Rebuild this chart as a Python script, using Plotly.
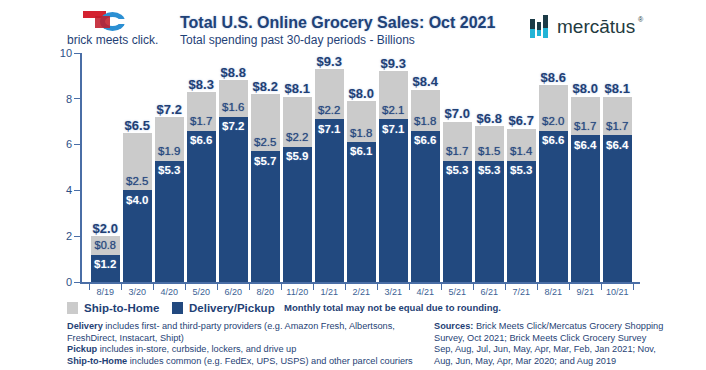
import plotly.graph_objects as go

# ---------------- data ----------------
categories = ["8/19", "3/20", "4/20", "5/20", "6/20", "8/20", "11/20", "1/21", "2/21",
              "3/21", "4/21", "5/21", "6/21", "7/21", "8/21", "9/21", "10/21"]
delivery_pickup = [1.2, 4.0, 5.3, 6.6, 7.2, 5.7, 5.9, 7.1, 6.1, 7.1, 6.6, 5.3, 5.3, 5.3, 6.6, 6.4, 6.4]
ship_to_home = [0.8, 2.5, 1.9, 1.7, 1.6, 2.5, 2.2, 2.2, 1.8, 2.1, 1.8, 1.7, 1.5, 1.4, 2.0, 1.7, 1.7]
monthly_total = [2.0, 6.5, 7.2, 8.3, 8.8, 8.2, 8.1, 9.3, 8.0, 9.3, 8.4, 7.0, 6.8, 6.7, 8.6, 8.0, 8.1]
y_ticks = [0, 2, 4, 6, 8, 10]

# ---------------- style ----------------
W, H = 706, 370
ML, MR, MT, MB = 82, 66, 53, 88
PW, PH = W - ML - MR, H - MT - MB
FONT = "Arial, Liberation Sans, Helvetica, sans-serif"
NAVY = "#22497f"
GREY = "#cbcbcb"
TXT = "#1f3f75"
GLOW = "0px 0px 2px rgba(110,150,210,0.55)"


def px(x):
    return (x - ML) / PW


def py(y):
    return (H - MB - y) / PH


stack_top = [d + s for d, s in zip(delivery_pickup, ship_to_home)]

fig = go.Figure()
fig.add_trace(go.Bar(
    x=categories, y=delivery_pickup, name="Delivery/Pickup",
    marker=dict(color=NAVY, line=dict(width=0)),
    text=[f"${v:.1f}" for v in delivery_pickup],
    textposition="inside", insidetextanchor="end", textangle=0,
    insidetextfont=dict(family=FONT, size=12.5, color="white", weight="bold", shadow=GLOW),
    hoverinfo="skip",
))
fig.add_trace(go.Bar(
    x=categories, y=ship_to_home, name="Ship-to-Home",
    marker=dict(color=GREY, line=dict(width=0)),
    text=[f"${v:.1f}" for v in ship_to_home],
    textposition="inside", insidetextanchor="start", textangle=0,
    insidetextfont=dict(family=FONT, size=12.5, color="#27487f",
                        shadow="0px 0px 1px rgba(39,72,127,0.7)"),
    hoverinfo="skip",
))
fig.add_trace(go.Scatter(
    x=categories, y=stack_top, mode="text",
    text=[f"${v:.1f}" for v in monthly_total], textposition="top center",
    textfont=dict(family=FONT, size=13, color=TXT, weight="bold", shadow=GLOW),
    hoverinfo="skip", showlegend=False, cliponaxis=False,
))

fig.update_layout(
    width=W, height=H, margin=dict(l=ML, r=MR, t=MT, b=MB),
    paper_bgcolor="white", plot_bgcolor="white",
    barmode="stack", bargap=0.11, showlegend=False,
    font=dict(family=FONT, color=TXT),
)
fig.update_xaxes(
    type="category", range=[-0.727, 16.71],
    showline=True, linecolor="#4a6ea6", linewidth=1.5,
    ticks="outside", tickson="boundaries", ticklen=6, tickcolor="#4a6ea6",
    tickfont=dict(family=FONT, size=9, color="#3b5f95"),
    showgrid=False, zeroline=False,
)
fig.update_yaxes(
    range=[0, 10], tickvals=y_ticks,
    showline=True, linecolor="#4a6ea6", linewidth=1.5,
    ticks="outside", ticklen=6, tickcolor="#4a6ea6",
    tickfont=dict(family=FONT, size=11, color="#2d4f86"),
    showgrid=False, zeroline=False,
)

ann = []
shapes = []


def text(x, y, s, size, color=TXT, bold=False, xanchor="left", shadow="none"):
    ann.append(dict(xref="paper", yref="paper", x=px(x), y=py(y), text=s, showarrow=False,
                    xanchor=xanchor, yanchor="middle",
                    font=dict(family=FONT, size=size, color=color,
                              weight="bold" if bold else "normal", shadow=shadow)))


def rect(x0, y0, x1, y1, color, kind="rect", opacity=1):
    shapes.append(dict(type=kind, xref="paper", yref="paper", x0=px(x0), x1=px(x1),
                       y0=py(y1), y1=py(y0), fillcolor=color, line=dict(width=0),
                       opacity=opacity, layer="above"))


# titles
text(178, 23, "Total U.S. Online Grocery Sales: Oct 2021", 16, color="#1f4277", bold=True, shadow=GLOW)
text(178, 40, "Total spending past 30-day periods - Billions", 12, color="#1f4277")

# brick meets click logo
rect(83, 11, 106, 18, "#d42230")
rect(100, 12, 125, 31, "#2b8fd3", kind="circle")
rect(105, 17, 120, 26, "white", kind="circle")
rect(95, 16, 110, 28, "#c01d2b", opacity=0.88)
rect(113, 19, 127, 24, "white")
text(65, 40, "brick meets click.", 12, color="#1f3f75")

# mercatus logo
rect(530, 19, 535, 29, "#1c3b47")
rect(530, 29, 535, 38, "#22b4d6")
rect(537, 22, 541, 30, "#1c3b47")
rect(537, 30, 541, 36, "#22b4d6")
rect(543, 15, 548, 28, "#1c3b47")
rect(543, 28, 548, 38, "#22b4d6")
text(555, 27, "mercātus", 19, color="#233a40")
text(636, 19, "®", 7, color="#233a40")

# legend (manual)
rect(67, 302, 78, 314, GREY)
text(82, 308, "Ship-to-Home", 11.5, color=TXT, bold=True)
rect(172, 302, 183, 314, NAVY)
text(187, 308, "Delivery/Pickup", 11.5, color=TXT, bold=True)
text(282, 307, "Monthly total may not be equal due to rounding.", 9.5, color=TXT, bold=True)

# footnotes
left_lines = [
    "<b>Delivery</b> includes first- and third-party providers (e.g. Amazon Fresh, Albertsons,",
    "FreshDirect, Instacart, Shipt)",
    "<b>Pickup</b> includes in-store, curbside, lockers, and drive up",
    "<b>Ship-to-Home</b> includes common (e.g. FedEx, UPS, USPS) and other parcel couriers",
]
right_lines = [
    "<b>Sources:</b> Brick Meets Click/Mercatus Grocery Shopping",
    "Survey, Oct 2021; Brick Meets Click Grocery Survey",
    "Sep, Aug, Jul, Jun, May, Apr, Mar, Feb, Jan 2021; Nov,",
    "Aug, Jun, May, Apr, Mar 2020; and Aug 2019",
]
for i, (a, b) in enumerate(zip(left_lines, right_lines)):
    yy = 326 + i * 11.5
    text(65, yy, a, 9.2, color=TXT)
    text(432, yy, b, 9.2, color=TXT)

fig.update_layout(annotations=ann, shapes=shapes)
fig.write_html("out.html", config={"displayModeBar": False},
               post_script="document.body.style.margin='0';document.body.style.overflow='hidden';")
